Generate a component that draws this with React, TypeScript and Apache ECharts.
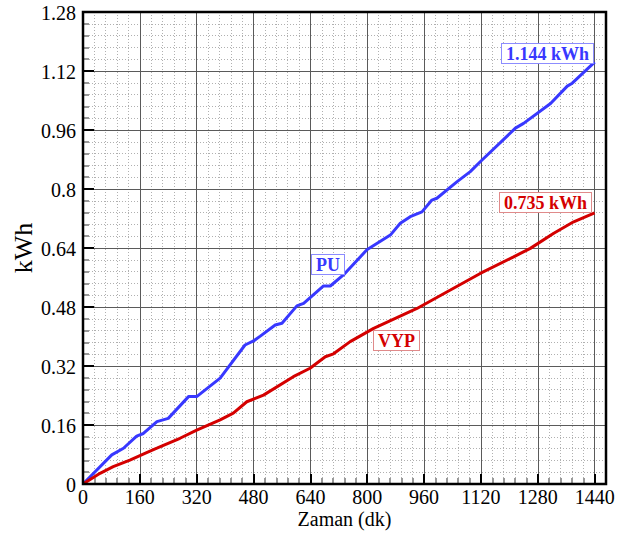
import React, { useEffect, useRef } from "react";
import * as echarts from "echarts";

const timePU = [0, 81, 114, 151, 170, 208, 240, 297, 320, 386, 456, 480, 499, 541, 560, 602, 621, 677, 696, 733, 799, 865, 893, 921, 954, 982, 996, 1053, 1090, 1118, 1217, 1240, 1316, 1363, 1377, 1440];
const valuesPU = [0, 0.079, 0.097, 0.130, 0.137, 0.169, 0.178, 0.237, 0.237, 0.287, 0.377, 0.388, 0.401, 0.431, 0.436, 0.483, 0.490, 0.537, 0.537, 0.567, 0.635, 0.675, 0.707, 0.725, 0.738, 0.770, 0.775, 0.820, 0.847, 0.874, 0.965, 0.978, 1.032, 1.079, 1.087, 1.144];

const timeVYP = [0, 48, 85, 132, 179, 208, 273, 320, 386, 423, 461, 508, 592, 639, 682, 705, 752, 818, 940, 1034, 1118, 1212, 1259, 1325, 1381, 1440];
const valuesVYP = [0, 0.029, 0.047, 0.065, 0.085, 0.097, 0.124, 0.146, 0.174, 0.192, 0.223, 0.241, 0.291, 0.314, 0.345, 0.353, 0.386, 0.422, 0.476, 0.526, 0.571, 0.616, 0.639, 0.680, 0.711, 0.735];

const xTickValues = [0, 160, 320, 480, 640, 800, 960, 1120, 1280, 1440];
const yTickValues = [0, 0.16, 0.32, 0.48, 0.64, 0.8, 0.96, 1.12, 1.28];

const xMax = 1472;
const xMajor = 160;
const xMinor = 32;
const yMax = 1.28;
const yMajor = 0.16;
const yMinor = 0.032;

const seriesNames = ["PU", "VYP"];
const endLabels = ["1.144 kWh", "0.735 kWh"];
const xName = "Zaman (dk)";
const yName = "kWh";

const BLUE = "#3838ff";
const RED = "#d40000";
const FONT = '"Liberation Serif", "DejaVu Serif", serif';

export default function App() {
  const ref = useRef<HTMLDivElement>(null);
  useEffect(() => {
    if (!ref.current) return;
    const chart = echarts.init(ref.current, undefined, { renderer: "svg" });
    const pu = timePU.map((t, i) => [t, valuesPU[i]]);
    const vyp = timeVYP.map((t, i) => [t, valuesVYP[i]]);
    const L = 83, T = 12, R = 12, B = 55;
    const W = 618 - L - R, H = 539 - T - B;

    const minorX = {
      type: "value", min: 0, max: xMax, interval: xMinor, position: "bottom", z: 0,
      axisLine: { show: false },
      axisLabel: { show: false },
      axisTick: { show: true, inside: true, length: 6, lineStyle: { color: "#999", width: 2 } },
      splitLine: { show: true, lineStyle: { color: "#b0b0b0", width: 1, type: [1, 2] } },
    };
    const majorX = {
      type: "value", min: 0, max: xMax, interval: xMajor, position: "bottom", z: 1,
      axisLine: { show: false },
      axisLabel: { show: false },
      axisTick: { show: true, inside: true, length: 10, lineStyle: { color: "#000", width: 2 } },
      splitLine: { show: true, lineStyle: { color: "#5a5a5a", width: 1 } },
    };
    const minorY = {
      type: "value", min: 0, max: yMax, interval: yMinor, position: "left", z: 0,
      axisLine: { show: false },
      axisLabel: { show: false },
      axisTick: { show: true, inside: true, length: 6, lineStyle: { color: "#999", width: 2 } },
      splitLine: { show: true, lineStyle: { color: "#b0b0b0", width: 1, type: [1, 2] } },
    };
    const majorY = {
      type: "value", min: 0, max: yMax, interval: yMajor, position: "left", z: 1,
      axisLine: { show: false },
      axisLabel: { show: false },
      axisTick: { show: true, inside: true, length: 11, lineStyle: { color: "#000", width: 2 } },
      splitLine: { show: true, lineStyle: { color: "#5a5a5a", width: 1 } },
    };

    chart.setOption({
      animation: false,
      backgroundColor: "#fff",
      grid: { left: L, top: T, right: R, bottom: B, containLabel: false, outerBoundsMode: "none" },
      xAxis: [minorX, majorX],
      yAxis: [minorY, majorY],
      series: [
        {
          name: seriesNames[0], type: "line", data: pu, xAxisIndex: 1, yAxisIndex: 1,
          showSymbol: false, symbol: "none", lineStyle: { color: BLUE, width: 3 }, z: 5,
        },
        {
          name: seriesNames[1], type: "line", data: vyp, xAxisIndex: 1, yAxisIndex: 1,
          showSymbol: false, symbol: "none", lineStyle: { color: RED, width: 3 }, z: 5,
        },
      ],
    });

    const boxText = (text: string, x: number, y: number, color: string, border: string) => ({
      type: "text", x, y, z: 100,
      style: {
        text, fill: color, font: `bold 18px ${FONT}`,
        backgroundColor: "#fff", borderColor: border, borderWidth: 1,
        padding: [1, 4, 0, 4], lineHeight: 18,
      },
    });

    const baseY = chart.convertToPixel({ yAxisIndex: 1 }, 0) as number;
    const leftX = chart.convertToPixel({ xAxisIndex: 1 }, 0) as number;
    const rightX = chart.convertToPixel({ xAxisIndex: 1 }, xMax) as number;
    const topY = chart.convertToPixel({ yAxisIndex: 1 }, yMax) as number;

    const xLabels = xTickValues.map((v) => ({
      type: "text", z: 100,
      x: chart.convertToPixel({ xAxisIndex: 1 }, v) as number,
      y: baseY + 13,
      style: { text: String(v), fill: "#000", font: `20px ${FONT}`, align: "center", verticalAlign: "middle" },
    }));
    const yLabels = yTickValues.map((v) => ({
      type: "text", z: 100,
      x: leftX - 7,
      y: (chart.convertToPixel({ yAxisIndex: 1 }, v) as number) + 1,
      style: { text: String(v), fill: "#000", font: `20px ${FONT}`, align: "right", verticalAlign: "middle" },
    }));

    chart.setOption({
      graphic: [
        {
          type: "rect", z: 50, shape: { x: L, y: T, width: W, height: H },
          style: { fill: "none", stroke: "#000", lineWidth: 2.5 },
        },
        ...xLabels,
        ...yLabels,
        {
          type: "text", z: 100, x: (leftX + rightX) / 2, y: baseY + 35,
          style: { text: xName, fill: "#000", font: `20px ${FONT}`, align: "center", verticalAlign: "middle" },
        },
        {
          type: "text", z: 100, x: leftX - 60, y: (topY + baseY) / 2, rotation: Math.PI / 2,
          style: { text: yName, fill: "#000", font: `26px ${FONT}`, align: "center", verticalAlign: "middle" },
        },
        boxText(endLabels[0], 502, 44, BLUE, "#8c8cff"),
        boxText(endLabels[1], 500, 193, RED, "#e08a8a"),
        boxText(seriesNames[0], 312, 255, BLUE, "#8c8cff"),
        boxText(seriesNames[1], 374, 331, RED, "#e08a8a"),
      ],
    });
    return () => chart.dispose();
  }, []);
  return (
    <div
      ref={ref}
      style={{ position: "fixed", left: 0, top: 0, width: 618, height: 539, background: "#fff" }}
    />
  );
}
